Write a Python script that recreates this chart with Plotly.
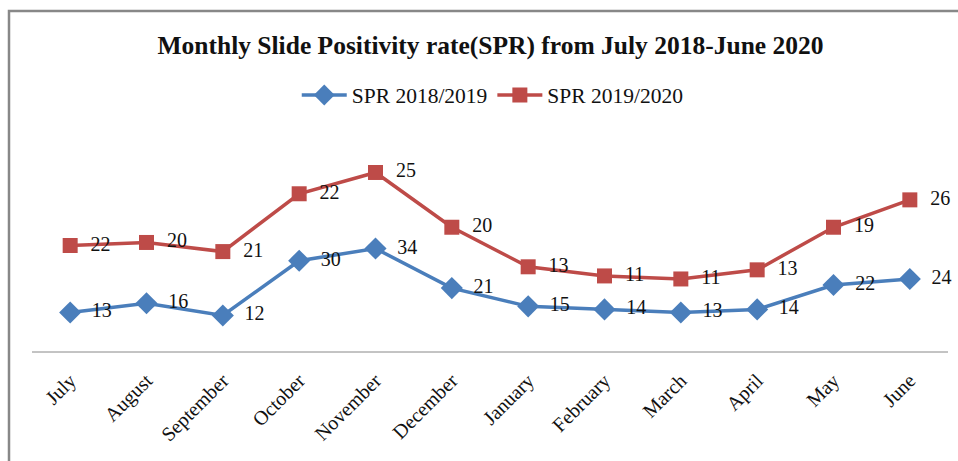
import plotly.graph_objects as go

months = ["July", "August", "September", "October", "November", "December",
          "January", "February", "March", "April", "May", "June"]
spr_2018_2019 = [13, 16, 12, 30, 34, 21, 15, 14, 13, 14, 22, 24]
spr_2019_2020 = [22, 20, 21, 22, 25, 20, 13, 11, 11, 13, 19, 26]

W, H = 958, 461
L, R, T, B = 32, 10, 139, 109
pw = W - L - R
ph = H - T - B

def px_x(p):
    return (p - L) / pw

def px_y(p):
    return (H - B - p) / ph

fig = go.Figure()
fig.add_trace(go.Scatter(
    x=months, y=spr_2018_2019, name="SPR 2018/2019",
    stackgroup="one", fill="none",
    mode="lines+markers+text",
    line=dict(color="#4A7EBB", width=3.5),
    marker=dict(symbol="diamond", size=17, color="#4A7EBB"),
    text=["  " + str(v) for v in spr_2018_2019], textposition="middle right",
    textfont=dict(family="Liberation Serif", size=20, color="#111"),
    cliponaxis=False,
))
fig.add_trace(go.Scatter(
    x=months, y=spr_2019_2020, name="SPR 2019/2020",
    stackgroup="one", fill="none",
    mode="lines+markers+text",
    line=dict(color="#BE4B48", width=3.5),
    marker=dict(symbol="square", size=15, color="#BE4B48"),
    text=["  " + str(v) for v in spr_2019_2020], textposition="middle right",
    textfont=dict(family="Liberation Serif", size=20, color="#111"),
    cliponaxis=False,
))

fig.update_layout(
    width=W, height=H,
    margin=dict(l=L, r=R, t=T, b=B),
    paper_bgcolor="white", plot_bgcolor="white",
    font=dict(family="Liberation Serif", color="#111"),
    title=dict(text="<b>Monthly Slide Positivity rate(SPR) from July 2018-June 2020</b>",
               x=0.512, xanchor="center", y=1 - 45 / H, yanchor="middle",
               font=dict(size=25.5, family="Liberation Serif", color="#111")),
    legend=dict(orientation="h", x=0.503, xanchor="center", y=px_y(95), yanchor="middle",
                font=dict(size=21.5, family="Liberation Serif", color="#111"),
                itemwidth=45, traceorder="normal"),
    showlegend=True,
    xaxis=dict(type="category", range=[-0.5, 11.5], showgrid=False, zeroline=False,
               showline=False, tickangle=-45, ticks="", ticklabelstandoff=12,
               tickfont=dict(size=20, family="Liberation Serif", color="#111")),
    yaxis=dict(range=[0, 70], showgrid=False, zeroline=False, showticklabels=False,
               showline=False, ticks=""),
    shapes=[
        dict(type="line", xref="paper", yref="paper", x0=0, x1=1, y0=0, y1=0,
             line=dict(color="#888888", width=1)),
        dict(type="rect", xref="paper", yref="paper",
             x0=px_x(9), x1=px_x(962), y0=px_y(464), y1=px_y(11),
             line=dict(color="#888888", width=2.5)),
    ],
)

fig.write_html("out.html")
